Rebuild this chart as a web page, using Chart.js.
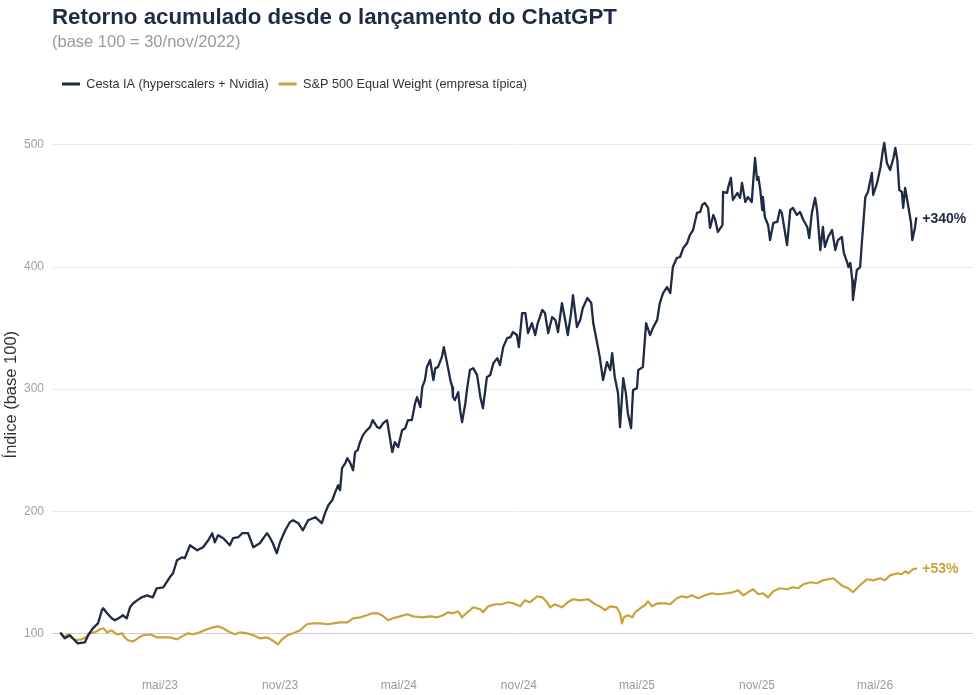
<!DOCTYPE html>
<html lang="pt-BR">
<head>
<meta charset="utf-8">
<title>Retorno acumulado desde o lançamento do ChatGPT</title>
<script src="https://cdn.jsdelivr.net/npm/chart.js@4.4.1/dist/chart.umd.min.js"></script>
<style>
  html, body { margin: 0; padding: 0; background: #ffffff; }
  #wrap { position: relative; width: 976px; height: 695px; }
</style>
</head>
<body>
<div id="wrap"><canvas id="c"></canvas></div>
<script>
// ---- Dados (dias desde 30/nov/2022, índice base 100) ----
const iaDias = [0,6,14,26,37,42,49,57,63,65,71,78,83,91,95,101,106,111,117,124,132,141,147,157,167,172,178,186,190,198,209,218,226,232,236,241,249,259,264,272,278,287,295,305,316,321,325,331,336,344,351,356,364,371,379,390,400,405,410,416,420,425,428,431,436,439,443,448,451,455,458,463,469,474,478,485,489,494,500,502,508,512,517,523,528,532,538,543,546,551,554,558,561,566,571,574,578,584,587,592,597,600,601,604,609,612,615,620,623,627,632,638,643,647,653,658,663,669,673,678,684,689,693,699,702,707,712,716,722,727,731,738,742,747,753,758,762,768,773,777,782,785,791,796,800,807,813,816,822,826,831,837,842,845,849,854,857,862,866,869,874,877,883,885,892,897,903,908,914,918,923,929,934,938,944,949,954,960,964,969,975,980,983,987,992,995,1000,1003,1007,1014,1015,1021,1023,1027,1030,1037,1041,1044,1049,1053,1059,1061,1064,1067,1069,1072,1075,1076,1079,1084,1087,1092,1098,1102,1105,1110,1113,1118,1122,1128,1133,1138,1144,1147,1151,1156,1159,1164,1168,1171,1176,1182,1187,1191,1197,1200,1205,1207,1210,1213,1214,1217,1220,1225,1228,1233,1237,1243,1245,1251,1256,1260,1262,1266,1271,1276,1279,1282,1285,1289,1291,1294,1299,1303,1305,1309,1311];
const iaValores = [100,95.9,98.4,91.8,92.6,98.4,104.1,108.2,118.9,120.5,116.4,112.3,110.7,113.1,114.8,112.3,121.3,124.6,127.0,129.5,131.1,129.5,136.9,137.7,145.9,149.2,159.8,162.3,161.5,172.1,168.0,170.5,176.2,182.0,174.6,180.3,177.9,172.1,177.9,178.7,182.0,182.0,170.5,173.8,182.0,177.9,173.8,165.6,174.6,184.4,191.0,192.6,190.2,184.4,192.6,195.1,190.2,198.4,204.9,209.0,214.8,221.3,217.2,235.2,239.3,243.4,240.2,233.6,248.4,250.0,255.7,262.3,266.4,268.9,274.6,268.9,268.0,272.1,274.6,268.0,248.4,256.6,252.5,266.4,268.0,274.6,274.6,288.5,293.4,285.2,301.6,307.4,318.0,323.8,307.4,317.2,318.0,326.2,334.4,321.3,307.4,301.6,293.4,291.0,297.5,282.8,273.0,288.5,301.6,315.6,317.2,311.5,293.4,284.4,309.8,311.5,321.3,325.4,319.7,334.4,341.8,342.6,346.7,344.3,334.4,362.3,362.3,345.9,354.1,344.3,354.1,364.8,362.3,345.9,359.0,356.6,346.7,370.5,356.6,344.3,362.3,377.0,350.8,356.6,366.4,374.6,370.5,354.1,337.7,326.2,307.4,322.1,315.6,329.5,309.8,296.7,268.9,309.0,296.7,280.3,268.0,299.2,300.8,315.6,318.0,354.1,344.3,350.8,356.6,370.5,378.7,383.6,378.7,400.0,407.4,408.2,415.6,419.7,426.2,430.3,444.3,445.1,450.8,452.5,448.4,432.0,442.6,438.5,428.7,434.4,461.5,460.7,465.6,473.0,454.9,460.7,456.6,468.9,453.3,457.4,453.3,468.9,489.3,471.3,473.8,463.1,446.7,457.4,441.0,434.4,422.1,436.1,436.9,446.7,444.3,427.9,418.0,446.7,448.4,442.6,445.1,438.5,432.8,423.8,444.3,456.6,446.7,413.9,432.8,416.4,424.6,430.3,413.9,422.1,424.6,411.5,404.1,400.0,403.3,389.3,373.0,385.2,397.5,400.0,422.1,457.4,461.5,477.1,459.0,468.9,481.1,495.9,501.6,485.2,479.5,489.3,497.5,487.7,463.1,461.5,448.4,464.8,449.2,436.1,422.1,432.0,440];

const spDias = [0,6,11,17,22,32,39,43,52,60,65,71,78,86,94,98,103,111,118,126,137,147,157,167,178,186,195,203,213,224,233,241,249,259,267,275,285,295,305,316,324,333,339,347,356,367,377,386,397,409,417,428,439,448,459,469,477,485,492,502,509,520,531,540,554,566,577,586,593,601,609,615,623,632,643,647,655,666,676,685,693,704,711,719,730,738,745,750,757,768,777,785,796,808,819,826,834,842,852,857,860,863,869,876,880,888,895,900,906,915,926,934,944,952,960,967,977,987,998,1007,1021,1030,1038,1046,1053,1061,1069,1076,1084,1092,1102,1113,1122,1130,1138,1149,1159,1168,1176,1184,1191,1199,1207,1214,1220,1228,1236,1245,1256,1263,1271,1282,1289,1294,1299,1306,1311];
const spValores = [100,96.7,99.2,95.9,94.3,95.1,96.7,100,100.8,103.3,104.1,100.8,102.5,99.2,100,96.7,94.3,93.4,95.9,98.4,99.2,96.7,96.7,96.7,95.1,97.5,100,99.2,100.8,103.3,104.9,105.7,104.1,100.8,99.2,100.8,100,98.4,95.9,96.7,94.3,91.0,95.1,98.4,100,102.5,107.4,108.2,108.2,107.4,108.2,109.0,109.0,112.3,113.1,114.8,116.4,116.4,114.8,110.7,112.3,113.9,115.6,113.9,113.1,113.9,113.1,114.8,117.2,116.4,118.0,113.1,117.2,121.3,119.7,117.2,122.1,123.8,123.8,125.4,124.6,122.1,127.0,125.4,130.3,129.5,125.4,121.3,123.8,121.3,125.4,127.9,127.0,127.9,123.8,122.1,118.9,122.1,121.3,116.4,108.2,113.1,114.8,113.1,117.2,120.5,123.0,126.2,122.1,124.6,124.6,123.8,128.7,130.3,129.5,131.1,128.7,131.1,132.8,132.0,132.8,133.6,135.2,131.1,133.6,136.1,132.0,132.8,129.5,134.4,136.9,136.1,137.7,136.9,140.2,141.8,141.0,143.4,144.3,145.1,141.8,138.5,136.9,133.6,136.9,141.0,144.3,143.4,145.1,143.4,147.5,149.2,148.4,150.8,149.2,152.5,153];

const dataBase = "2022-11-30";
const xTickDatas = ["2023-05-01","2023-11-01","2024-05-01","2024-11-01","2025-05-01","2025-11-01","2026-05-01"];
const xTickRotulos = ["mai/23","nov/23","mai/24","nov/24","mai/25","nov/25","mai/26"];
const yTicks = [100,200,300,400,500];
const rotulosFinais = ["+340%", "+53%"];

// ---- Configuração ----
const NAVY = "#1f2a44";
const GOLD = "#c9a23a";
const diasDesde = s => Math.round((Date.parse(s) - Date.parse(dataBase)) / 86400000);
const xTickDias = xTickDatas.map(diasDesde);

Chart.defaults.font.family = "'Liberation Sans', Arial, Helvetica, sans-serif";

const pontos = (xs, ys) => xs.map((x, i) => ({ x: x, y: ys[i] }));

const ajustePlugin = {
  id: 'ajuste',
  afterLayout(chart) {
    const left = chart.chartArea.left;
    chart.boxes.forEach(b => {
      if (b === chart.legend || (chart.titleBlock && b.constructor === chart.titleBlock.constructor)) {
        b.left = left;
      }
    });
    // centraliza o título do eixo Y um pouco mais abaixo, como no original
    const y = chart.scales.y;
    if (y) { y.bottom = y.bottom + 16; }
  },
  afterDatasetsDraw(chart) {
    const ctx = chart.ctx;
    ctx.save();
    ctx.font = "bold 14px 'Liberation Sans', Arial, sans-serif";
    ctx.textAlign = 'left';
    ctx.textBaseline = 'middle';
    chart.data.datasets.forEach((ds, i) => {
      const meta = chart.getDatasetMeta(i);
      const last = meta.data[meta.data.length - 1];
      if (!last) return;
      ctx.fillStyle = ds.borderColor;
      ctx.fillText(rotulosFinais[i], last.x + 6, last.y + 1);
    });
    ctx.restore();
  }
};

new Chart(document.getElementById('c'), {
  type: 'line',
  data: {
    datasets: [
      {
        label: 'Cesta IA (hyperscalers + Nvidia)',
        data: pontos(iaDias, iaValores),
        borderColor: NAVY,
        backgroundColor: NAVY,
        borderWidth: 2.3
      },
      {
        label: 'S&P 500 Equal Weight (empresa típica)',
        data: pontos(spDias, spValores),
        borderColor: GOLD,
        backgroundColor: GOLD,
        borderWidth: 2.2
      }
    ]
  },
  options: {
    responsive: true,
    maintainAspectRatio: false,
    animation: false,
    layout: { padding: { top: 0, left: 0, right: 3, bottom: 0 } },
    elements: { point: { radius: 0, hoverRadius: 0 }, line: { tension: 0, borderJoinStyle: 'round', borderCapStyle: 'round' } },
    plugins: {
      title: {
        display: true,
        text: 'Retorno acumulado desde o lançamento do ChatGPT',
        align: 'start',
        color: NAVY,
        font: { size: 22.3, weight: 'bold', lineHeight: 1.2 },
        padding: { top: 4, bottom: 0 }
      },
      subtitle: {
        display: true,
        text: '(base 100 = 30/nov/2022)',
        align: 'start',
        color: '#9a9a9a',
        font: { size: 16.5, weight: 'normal', lineHeight: 1.2 },
        padding: { top: 1.5, bottom: 15.6 }
      },
      legend: {
        display: true,
        position: 'top',
        align: 'start',
        labels: {
          boxWidth: 18,
          boxHeight: 3,
          padding: 10,
          color: '#333333',
          font: { size: 12.7 },
          generateLabels(chart) {
            return Chart.defaults.plugins.legend.labels.generateLabels(chart).map(l => Object.assign(l, { lineWidth: 0 }));
          }
        }
      },
      tooltip: { enabled: false }
    },
    scales: {
      x: {
        type: 'linear',
        min: -13.5,
        max: 1398,
        grid: { display: false, drawTicks: false },
        border: { display: false },
        ticks: {
          color: '#9a9a9a',
          font: { size: 12 },
          padding: 5,
          autoSkip: false,
          maxRotation: 0,
          callback: (v) => { const k = xTickDias.indexOf(v); return k >= 0 ? xTickRotulos[k] : ''; }
        },
        afterBuildTicks: (s) => { s.ticks = xTickDias.map(v => ({ value: v })); },
        afterFit: (s) => { s.height = 22; }
      },
      y: {
        type: 'linear',
        min: 67.5,
        max: 536.5,
        grid: {
          drawTicks: false,
          color: (c) => (c.tick && c.tick.value === 100) ? '#cfcfcf' : '#ebebeb',
          lineWidth: 1
        },
        border: { display: false },
        ticks: {
          color: '#a0a0a0',
          font: { size: 12 },
          padding: 8,
          callback: (v) => String(v)
        },
        afterBuildTicks: (s) => { s.ticks = yTicks.map(v => ({ value: v })); },
        afterFit: (s) => { s.width = 52; },
        title: {
          display: true,
          text: 'Índice (base 100)',
          color: '#333333',
          font: { size: 16.5 },
          padding: { top: 2, bottom: 0 }
        }
      }
    }
  },
  plugins: [ajustePlugin]
});
</script>
</body>
</html>
